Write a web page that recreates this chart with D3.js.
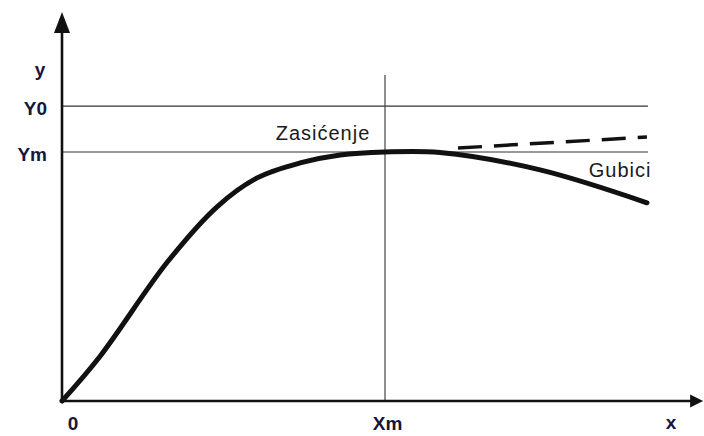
<!DOCTYPE html>
<html><head><meta charset="utf-8">
<script src="https://cdn.jsdelivr.net/npm/d3@7"></script>
<style>html,body{margin:0;padding:0;background:#fff;}svg{display:block;}</style>
</head><body>
<svg id="c" width="704" height="436"></svg>
<script>
// Data (x in units of Xm, y in units of Ym)
const curveX = [0, 0.118, 0.325, 0.48, 0.604, 0.737, 0.861, 1.0, 1.17, 1.48, 1.811];
const curveY = [0, 0.18, 0.556, 0.78, 0.896, 0.956, 0.988, 1.0, 0.998, 0.928, 0.796];
const dashX = [1.226, 1.811];
const dashY = [1.016, 1.06];
const refLevels = [{name: "Y0", value: 1.184}, {name: "Ym", value: 1.0}];
const xMark = {name: "Xm", value: 1.0};
const annotations = [{text: "Zasićenje", x: 0.808, y: 1.048}, {text: "Gubici", x: 1.728, y: 0.9}];

const svg = d3.select("#c");
const x = d3.scaleLinear().domain([0, 1]).range([62, 385]);
const y = d3.scaleLinear().domain([0, 1]).range([401, 152]);
const xMax = 1.814, xAxisEnd = 1.985, yAxisTop = 1.562;
const ink = "#111";
const labelColor = "#16163a";

// reference lines
svg.selectAll("line.ref").data(refLevels).join("line")
  .attr("x1", x(0)).attr("x2", x(xMax))
  .attr("y1", d => y(d.value)).attr("y2", d => y(d.value))
  .attr("stroke", "#333").attr("stroke-width", 1.2);
svg.append("line")
  .attr("x1", x(xMark.value)).attr("x2", x(xMark.value))
  .attr("y1", y(1.309)).attr("y2", y(0))
  .attr("stroke", "#444").attr("stroke-width", 1.2);

// axes
svg.append("line").attr("x1", x(0)).attr("x2", x(0)).attr("y1", y(0)).attr("y2", y(yAxisTop) + 8)
  .attr("stroke", ink).attr("stroke-width", 2.6);
svg.append("line").attr("x1", x(0)).attr("x2", x(xAxisEnd) - 8).attr("y1", y(0)).attr("y2", y(0))
  .attr("stroke", ink).attr("stroke-width", 2.6);
// arrowheads
const ty = y(yAxisTop);
svg.append("path").attr("d", `M${x(0)},${ty} L${x(0)-8},${ty+21} L${x(0)+8},${ty+21} Z`).attr("fill", ink);
const tx = x(xAxisEnd);
svg.append("path").attr("d", `M${tx},${y(0)} L${tx-13},${y(0)-6.5} L${tx-13},${y(0)+6.5} Z`).attr("fill", ink);

// main curve
const pts = curveX.map((v, i) => [x(v), y(curveY[i])]);
svg.append("path").attr("d", d3.line().curve(d3.curveCatmullRom.alpha(0.5))(pts))
  .attr("fill", "none").attr("stroke", ink).attr("stroke-width", 5).attr("stroke-linecap", "round");
// dashed
const dpts = dashX.map((v, i) => [x(v), y(dashY[i])]);
svg.append("path").attr("d", d3.line()(dpts))
  .attr("fill", "none").attr("stroke", ink).attr("stroke-width", 3.5).attr("stroke-dasharray", "24,12");

// labels
const f = "Arial, 'Liberation Sans', sans-serif";
function axisLabel(t, px, py, anchor) {
  svg.append("text").attr("x", px).attr("y", py).attr("text-anchor", anchor || "middle")
    .attr("font-family", f).attr("font-size", 19).attr("font-weight", "bold").attr("fill", labelColor).text(t);
}
svg.selectAll("text.ref").data(refLevels).join("text")
  .attr("x", 47).attr("y", d => y(d.value) + 8.5).attr("text-anchor", "end")
  .attr("font-family", f).attr("font-size", 19).attr("font-weight", "bold").attr("fill", labelColor)
  .text(d => d.name);
axisLabel("y", 40, 76);
axisLabel("0", x(0) + 11, 430);
axisLabel(xMark.name, x(xMark.value) + 2.5, 430);
axisLabel("x", 671, 429);
svg.selectAll("text.ann").data(annotations).join("text")
  .attr("x", d => x(d.x)).attr("y", d => y(d.y)).attr("text-anchor", "middle")
  .attr("font-family", f).attr("font-size", 20).attr("letter-spacing", 1).attr("fill", "#1a1a1a")
  .text(d => d.text);
</script>
</body></html>
